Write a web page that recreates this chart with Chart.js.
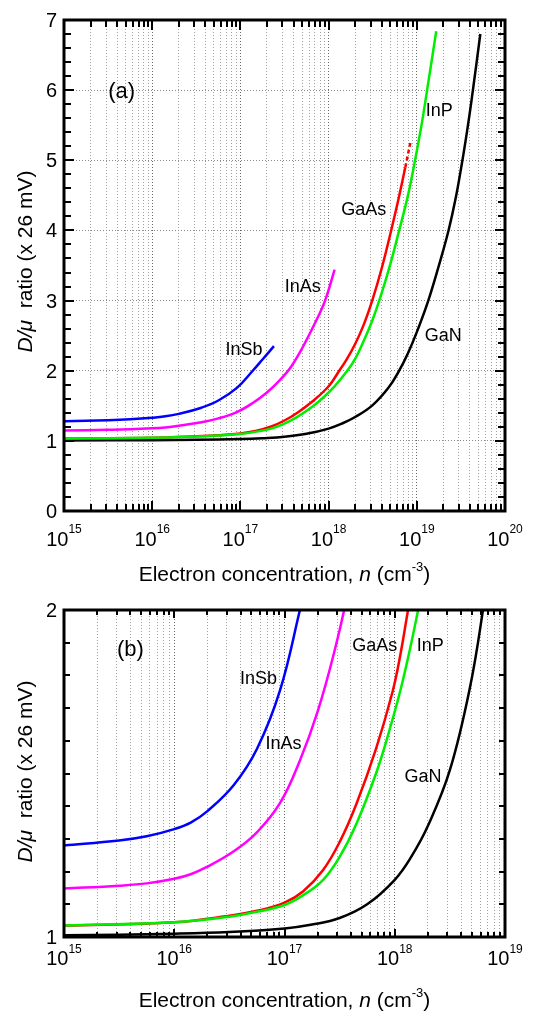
<!DOCTYPE html>
<html>
<head>
<meta charset="utf-8">
<script src="https://cdn.jsdelivr.net/npm/chart.js@4.4.1/dist/chart.umd.min.js"></script>
<style>
  html, body { margin: 0; padding: 0; background: #fff; }
  #wrap { position: relative; width: 534px; height: 1015px; }
  canvas { position: absolute; left: 0; }
  #chartA { top: 0; }
  #chartB { top: 595px; }
</style>
</head>
<body>
<div id="wrap">
  <canvas id="chartA" width="534" height="595"></canvas>
  <canvas id="chartB" width="534" height="420"></canvas>
</div>
<script>
// D/mu ratio (units of 26 mV) against electron concentration n (cm^-3)
const inSbN = [1e15, 3.16e15, 5.62e15, 1e16, 1.41e16, 2e16, 3.47e16, 5.62e16, 9.12e16, 1.38e17, 1.78e17, 2.4e17];
const inSbD = [1.28, 1.295, 1.308, 1.33, 1.35, 1.385, 1.465, 1.575, 1.755, 2.0, 2.16, 2.35];

const inAsN = [1e15, 3.16e15, 5.62e15, 1e16, 1.41e16, 2e16, 3.47e16, 5.62e16, 9.12e16, 1.38e17, 2e17, 2.82e17, 3.72e17, 5.01e17, 7.08e17, 9.12e17, 1.17e18];
const inAsD = [1.148, 1.157, 1.164, 1.178, 1.192, 1.215, 1.262, 1.32, 1.41, 1.54, 1.69, 1.87, 2.05, 2.32, 2.69, 3.0, 3.44];

const gaAsN = [1e15, 1e16, 3.16e16, 5.62e16, 1e17, 1.48e17, 2.24e17, 3.16e17, 4.47e17, 6.76e17, 9.55e17, 1.12e18, 1.32e18, 1.585e18, 2e18, 2.51e18, 3.16e18, 3.98e18, 4.9e18, 6.03e18, 7.41e18];
const gaAsD = [1.035, 1.045, 1.065, 1.08, 1.105, 1.14, 1.205, 1.29, 1.405, 1.575, 1.75, 1.86, 2.0, 2.15, 2.38, 2.66, 3.02, 3.45, 3.9, 4.38, 4.9];
const gaAsDashN = [7.41e18, 8.51e18];
const gaAsDashD = [4.9, 5.27];

const inPN = [1e15, 1e16, 3.16e16, 5.62e16, 1e17, 1.48e17, 2.24e17, 3.16e17, 4.47e17, 6.76e17, 8.91e17, 1.175e18, 1.585e18, 2e18, 2.51e18, 3.16e18, 3.98e18, 5.01e18, 6.31e18, 7.94e18, 9.55e18, 1.12e19, 1.29e19, 1.66e19];
const inPD = [1.035, 1.045, 1.062, 1.077, 1.098, 1.128, 1.175, 1.245, 1.345, 1.5, 1.63, 1.78, 1.98, 2.17, 2.43, 2.73, 3.1, 3.52, 4.0, 4.5, 5.0, 5.47, 5.95, 6.84];

const gaNN = [1e15, 1e16, 3.16e16, 1e17, 1.78e17, 3.16e17, 5.62e17, 1e18, 1.41e18, 2e18, 3.16e18, 4.79e18, 6.31e18, 7.94e18, 1e19, 1.35e19, 1.78e19, 2.29e19, 2.75e19, 3.24e19, 3.72e19, 4.17e19, 5.25e19];
const gaND = [1.005, 1.01, 1.015, 1.026, 1.038, 1.058, 1.10, 1.175, 1.245, 1.34, 1.51, 1.76, 2.0, 2.25, 2.55, 3.0, 3.5, 4.0, 4.45, 4.95, 5.42, 5.85, 6.8];

// axis ticks
const xExpA = [15, 16, 17, 18, 19, 20];
const xExpB = [15, 16, 17, 18, 19];
const yMajorA = [0, 1, 2, 3, 4, 5, 6, 7];
const yMajorB = [1, 2];

const FF = '"Liberation Sans", Arial, sans-serif';
const font = (s, st) => (st || '') + ' ' + s + 'px ' + FF;

function pts(ns, ds) {
    return ns.map((n, i) => ({ x: n, y: ds[i] }));
}

function logTicks(exps) {
    const t = [];
    exps.forEach((e, i) => {
        const last = i === exps.length - 1 ? 1 : 9;
        for (let m = 1; m <= last; m++) {
            t.push({ value: m * Math.pow(10, e), major: m === 1 });
        }
    });
    return t;
}

function linTicks(majors, step) {
    const lo = majors[0], hi = majors[majors.length - 1];
    const n = Math.round((hi - lo) / step);
    const t = [];
    for (let i = 0; i <= n; i++) {
        const v = Math.round((lo + i * step) * 1000) / 1000;
        t.push({ value: v, major: majors.includes(v) });
    }
    return t;
}

// draw a row of text pieces [text, font, rise]
function runs(ctx, parts, x, y, align) {
    let w = 0;
    parts.forEach(p => { ctx.font = p[1]; w += ctx.measureText(p[0]).width; });
    let cx = align === 'center' ? x - w / 2 : (align === 'right' ? x - w : x);
    parts.forEach(p => {
        ctx.font = p[1];
        ctx.fillText(p[0], cx, y + (p[2] || 0));
        cx += ctx.measureText(p[0]).width;
    });
}

function makeFrame(f) {
    const xt = logTicks(f.xExps);
    const yt = linTicks(f.yMajors, f.yStep);
    return {
        id: 'frame',
        afterDraw(chart) {
            const ctx = chart.ctx, a = chart.chartArea;
            const xs = chart.scales.x, ys = chart.scales.y;
            ctx.save();
            ctx.setLineDash([]);
            ctx.strokeStyle = '#000';
            ctx.fillStyle = '#000';

            // inward tick marks on all four sides
            xt.forEach(t => {
                const px = Math.round(xs.getPixelForValue(t.value));
                const len = t.major ? f.xMajor : f.xMinor;
                ctx.fillRect(px - 1, a.bottom - len, 2, len);
                ctx.fillRect(px - 1, a.top, 2, len);
            });
            yt.forEach(t => {
                const py = Math.round(ys.getPixelForValue(t.value));
                const len = t.major ? f.yMajor : f.yMinor;
                ctx.fillRect(a.left, py - 1, len, 2);
                ctx.fillRect(a.right - len, py - 1, len, 2);
            });

            ctx.lineWidth = 3;
            ctx.strokeRect(a.left, a.top, a.right - a.left, a.bottom - a.top);

            ctx.textAlign = 'left';
            ctx.textBaseline = 'alphabetic';

            // tick labels
            f.yLabels.forEach(v => {
                runs(ctx, [[String(v), font(20)]], a.left - 7, ys.getPixelForValue(v) + 7, 'right');
            });
            f.xExps.forEach(e => {
                const px = xs.getPixelForValue(Math.pow(10, e));
                runs(ctx, [['10', font(20)], [String(e), font(12), f.expRise]], px, a.bottom + f.tenBase, 'center');
            });

            // axis titles
            runs(ctx, [
                ['Electron concentration, ', font(21)],
                ['n', font(21, 'italic')],
                [' (cm', font(21)],
                ['-3', font(13), -10],
                [')', font(21)]
            ], (a.left + a.right) / 2, a.bottom + 70, 'center');

            ctx.save();
            ctx.translate(32, (a.top + a.bottom) / 2 + f.yTitleShift);
            ctx.rotate(-Math.PI / 2);
            runs(ctx, [['D/\u03bc', font(21, 'italic')], ['  ratio (x 26 mV)', font(21)]], 0, 0, 'center');
            ctx.restore();

            // curve labels, placed in data coordinates
            ctx.textAlign = 'center';
            ctx.textBaseline = 'middle';
            f.labels.forEach(l => {
                ctx.font = font(l[3]);
                ctx.fillText(l[0], xs.getPixelForValue(l[1]), ys.getPixelForValue(l[2]));
            });
            ctx.restore();
        }
    };
}

function datasets() {
    const base = { borderWidth: 2.5, pointRadius: 0, fill: false, tension: 0.4, capBezierPoints: false };
    return [
        Object.assign({ label: 'InP', data: pts(inPN, inPD), borderColor: '#00ee00' }, base),
        Object.assign({ label: 'GaAs', data: pts(gaAsN, gaAsD), borderColor: '#ff0000' }, base),
        Object.assign({ label: 'GaAs (ext.)', data: pts(gaAsDashN, gaAsDashD), borderColor: '#ff0000', borderDash: [4, 3] }, base),
        Object.assign({ label: 'InAs', data: pts(inAsN, inAsD), borderColor: '#ff00ff' }, base),
        Object.assign({ label: 'InSb', data: pts(inSbN, inSbD), borderColor: '#0000ff' }, base),
        Object.assign({ label: 'GaN', data: pts(gaNN, gaND), borderColor: '#000000' }, base)
    ];
}

function makeChart(id, cfg) {
    return new Chart(document.getElementById(id), {
        type: 'line',
        data: { datasets: datasets() },
        plugins: [makeFrame(cfg.frame)],
        options: {
            responsive: false,
            animation: false,
            events: [],
            layout: { padding: cfg.padding },
            plugins: {
                legend: { display: false },
                tooltip: { enabled: false }
            },
            scales: {
                x: {
                    type: 'logarithmic',
                    min: Math.pow(10, cfg.frame.xExps[0]),
                    max: Math.pow(10, cfg.frame.xExps[cfg.frame.xExps.length - 1]),
                    afterBuildTicks: s => { s.ticks = logTicks(cfg.frame.xExps); },
                    ticks: { display: false },
                    grid: {
                        drawTicks: false,
                        lineWidth: 1,
                        color: c => (c.tick && c.tick.major) ? '#666' : '#a0a0a0'
                    },
                    border: { display: false, dash: [1, 2] }
                },
                y: {
                    type: 'linear',
                    min: cfg.frame.yMajors[0],
                    max: cfg.frame.yMajors[cfg.frame.yMajors.length - 1],
                    afterBuildTicks: s => { s.ticks = linTicks(cfg.frame.yMajors, cfg.frame.yStep); },
                    ticks: { display: false },
                    grid: {
                        display: cfg.yGrid,
                        drawTicks: false,
                        lineWidth: 1,
                        color: c => (c.tick && c.tick.major) ? '#8a8a8a' : 'rgba(0,0,0,0)'
                    },
                    border: { display: false, dash: [1, 2] }
                }
            }
        }
    });
}

makeChart('chartA', {
    padding: { left: 64, top: 20, right: 29, bottom: 84 },
    yGrid: true,
    frame: {
        xExps: xExpA, yMajors: yMajorA, yStep: 0.2, yLabels: yMajorA,
        xMajor: 10, xMinor: 7, yMajor: 10, yMinor: 7,
        tenBase: 35, expRise: -13, yTitleShift: -4,
        labels: [
            ['(a)', 4.5e15, 5.97, 22],
            ['InP', 1.8e19, 5.7, 18],
            ['GaAs', 2.5e18, 4.29, 18],
            ['InAs', 5.1e17, 3.19, 18],
            ['InSb', 1.1e17, 2.29, 18],
            ['GaN', 2e19, 2.5, 18]
        ]
    }
});

makeChart('chartB', {
    padding: { left: 64, top: 15, right: 29, bottom: 78 },
    yGrid: false,
    frame: {
        xExps: xExpB, yMajors: yMajorB, yStep: 0.1, yLabels: yMajorB,
        xMajor: 8, xMinor: 5, yMajor: 6, yMinor: 6,
        tenBase: 28, expRise: -12, yTitleShift: -2,
        labels: [
            ['(b)', 4e15, 1.878, 22],
            ['GaAs', 6.6e17, 1.89, 18],
            ['InP', 2.1e18, 1.89, 18],
            ['InSb', 5.8e16, 1.789, 18],
            ['InAs', 9.8e16, 1.59, 18],
            ['GaN', 1.8e18, 1.49, 18]
        ]
    }
});
</script>
</body>
</html>
